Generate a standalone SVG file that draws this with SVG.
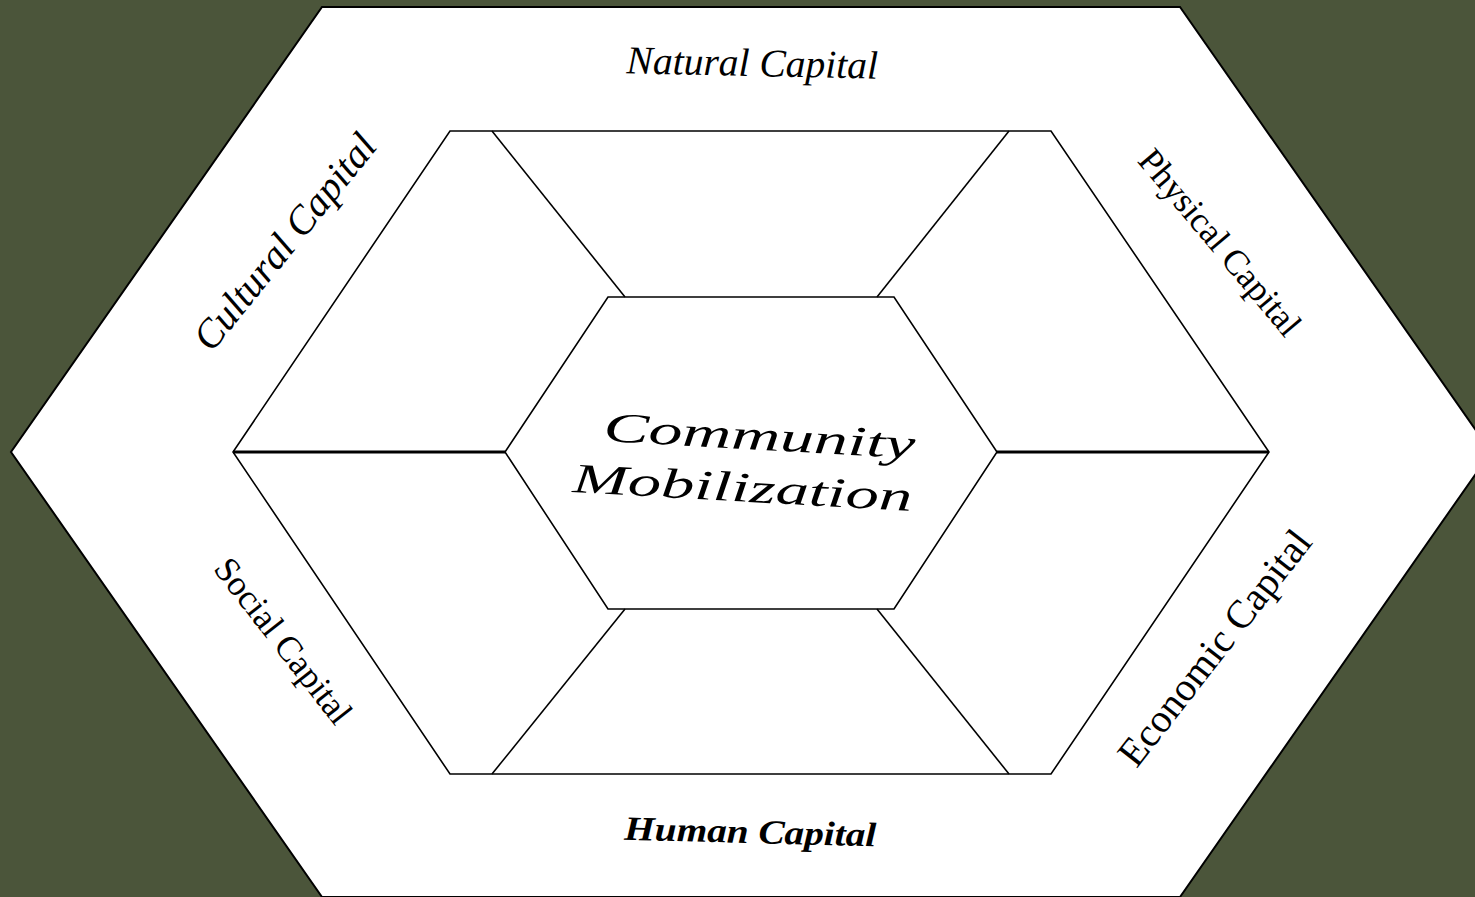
<svg xmlns="http://www.w3.org/2000/svg" width="1475" height="897" viewBox="0 0 1475 897">
  <style>
    .frame { fill: #ffffff; stroke: #000000; stroke-width: 2; stroke-linejoin: miter; }
    .edge { fill: none; stroke: #000000; stroke-width: 1.6; }
    .axis { fill: none; stroke: #000000; stroke-width: 3; }
    .lbl { font-family: "Liberation Serif", "Times New Roman", serif; fill: #000000; }
    .it { font-style: italic; }
    .bi { font-style: italic; font-weight: bold; }
  </style>

  <!-- backdrop -->
  <rect x="0" y="0" width="1475" height="897" fill="#4b553a"/>

  <!-- outer hexagon -->
  <g id="outer-hexagon">
    <polygon class="frame" points="322,7 1180,7 1491,452 1180,897 322,897 11,452"/>
  </g>

  <!-- ring of six capital segments and the centre -->
  <g id="connectors">
    <polygon class="edge" points="450,131 1051,131 1269,452 1051,774 450,774 233,452"/>
    <line class="edge" x1="492" y1="131" x2="625" y2="297"/>
    <line class="edge" x1="1009" y1="131" x2="877" y2="297"/>
    <line class="edge" x1="492" y1="774" x2="625" y2="609"/>
    <line class="edge" x1="1009" y1="774" x2="877" y2="609"/>
    <line class="axis" x1="233" y1="452" x2="505" y2="452"/>
    <line class="axis" x1="997" y1="452" x2="1269" y2="452"/>
  </g>

  <g id="community-mobilization">
    <polygon class="edge" points="608,297 894,297 997,452 894,609 608,609 505,452"/>
    <text class="lbl it" transform="translate(603,441) rotate(3.2)" font-size="42" textLength="312" lengthAdjust="spacingAndGlyphs">Community</text>
    <text class="lbl it" transform="translate(572,492) rotate(3.2)" font-size="42" textLength="340" lengthAdjust="spacingAndGlyphs">Mobilization</text>
  </g>

  <g id="natural-capital">
    <text class="lbl it" transform="translate(752,76) rotate(1.2)" font-size="39.5" text-anchor="middle">Natural Capital</text>
  </g>

  <g id="physical-capital">
    <text class="lbl" transform="translate(1211,250) rotate(50)" font-size="35.5" text-anchor="middle">Physical Capital</text>
  </g>

  <g id="economic-capital">
    <text class="lbl" transform="translate(1225,656) rotate(-52)" font-size="40" text-anchor="middle">Economic Capital</text>
  </g>

  <g id="human-capital">
    <text class="lbl bi" transform="translate(750,843) rotate(1.5)" font-size="34" text-anchor="middle" textLength="252" lengthAdjust="spacingAndGlyphs">Human Capital</text>
  </g>

  <g id="social-capital">
    <text class="lbl" transform="translate(274,648) rotate(52)" font-size="35.5" text-anchor="middle">Social Capital</text>
  </g>

  <g id="cultural-capital">
    <text class="lbl it" transform="translate(295,250) rotate(-51)" font-size="40" text-anchor="middle">Cultural Capital</text>
  </g>
</svg>
